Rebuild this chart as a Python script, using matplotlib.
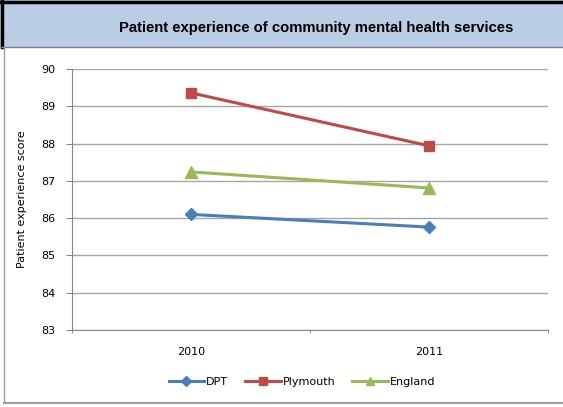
import matplotlib.pyplot as plt
from matplotlib.patches import Rectangle
from matplotlib.lines import Line2D

years = ['2010', '2011']
dpt = [86.1, 85.76]
plymouth = [89.36, 87.94]
england = [87.24, 86.81]

fig = plt.figure(figsize=(5.63, 4.07), dpi=100)

# title banner
fig.patches.append(Rectangle((0, 1 - 47 / 407), 1, 47 / 407, transform=fig.transFigure,
                             facecolor='#B9CDE5', edgecolor='none', zorder=0))
fig.add_artist(Line2D([0, 1], [1 - 1.5 / 407] * 2, transform=fig.transFigure, color='black', lw=2.5))
fig.add_artist(Line2D([1.5 / 563] * 2, [1 - 47 / 407, 1], transform=fig.transFigure, color='black', lw=2.5))
fig.add_artist(Line2D([0, 1], [1 - 47 / 407] * 2, transform=fig.transFigure, color='#808080', lw=1))
fig.add_artist(Line2D([3.5 / 563] * 2, [4 / 407, 1 - 47 / 407], transform=fig.transFigure, color='#A0A0A0', lw=1))
fig.add_artist(Line2D([3.5 / 563, 1], [4 / 407] * 2, transform=fig.transFigure, color='#A0A0A0', lw=1.5))
fig.text(316 / 563, 1 - 28 / 407, 'Patient experience of community mental health services',
         ha='center', va='center', fontsize=10.7, fontweight='bold', family='Liberation Sans')

ax = fig.add_axes([72 / 563, 1 - 330 / 407, 476 / 563, 261 / 407])
x = range(len(years))
ax.plot(x, dpt, color='#4A7EBB', lw=2.2, marker='D', ms=6, label='DPT')
ax.plot(x, plymouth, color='#BE4B48', lw=2.2, marker='s', ms=7, label='Plymouth')
ax.plot(x, england, color='#98B954', lw=2.2, marker='^', ms=8, label='England')

ax.set_xlim(-0.5, 1.5)
ax.set_ylim(83, 90)
ax.set_yticks(range(83, 91))
ax.set_xticks(list(x))
ax.set_xticklabels(years)
ax.set_xticks([-0.5, 0.5, 1.5], minor=True)
ax.tick_params(axis='x', which='major', length=0, pad=12, labelsize=8)
ax.tick_params(axis='x', which='minor', length=2.5, color='#868686')
ax.tick_params(axis='y', length=4, color='#868686', labelsize=8, pad=8)
ax.grid(axis='y', color='#A6A6A6', lw=1)
ax.set_axisbelow(True)
for s in ['top', 'right']:
    ax.spines[s].set_visible(False)
for s in ['left', 'bottom']:
    ax.spines[s].set_color('#868686')
ax.set_ylabel('Patient experience score', fontsize=8, labelpad=10)

ax.legend(loc='center', bbox_to_anchor=(302 / 563, 1 - 382 / 407), bbox_transform=fig.transFigure,
          ncol=3, frameon=False, fontsize=8, handlelength=3.2, handletextpad=0.2, columnspacing=1.5,
          markerscale=0.8)

fig.savefig('out.png', dpi=100)
